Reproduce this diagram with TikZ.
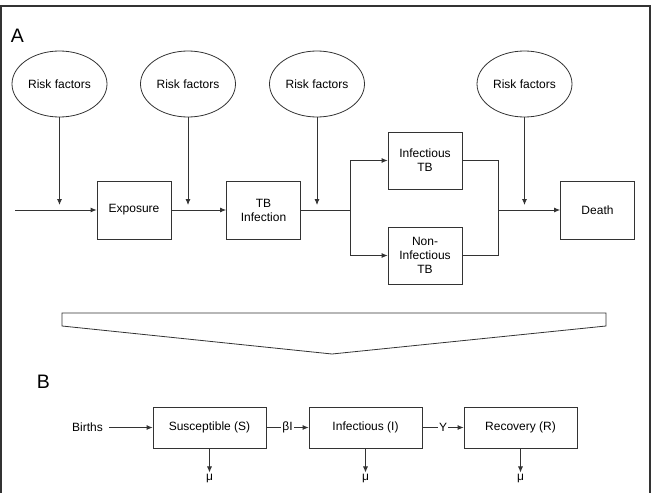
\documentclass[tikz,border=0pt]{standalone}
\usepackage{fontspec}
\setmainfont{Liberation Sans}
\usetikzlibrary{shapes.geometric, arrows.meta, positioning}
\definecolor{linegray}{HTML}{333333}

\begin{document}
\begin{tikzpicture}[x=1pt, y=-1pt,
    risk/.style  = {ellipse, draw=linegray, line width=0.8pt, minimum width=95pt,
                    minimum height=66pt, inner sep=0pt, font=\fontsize{12}{13}\selectfont},
    stage/.style = {rectangle, draw=linegray, line width=0.8pt, minimum width=74pt,
                    minimum height=58pt, align=center, inner sep=1pt,
                    font=\fontsize{12}{14}\selectfont},
    comp/.style  = {rectangle, draw=linegray, line width=0.8pt, minimum width=113pt,
                    minimum height=41pt, align=center, font=\fontsize{12}{13}\selectfont},
    plain/.style = {inner sep=1pt, font=\fontsize{12}{13}\selectfont},
    panel/.style = {font=\fontsize{19.5}{21}\selectfont},
    arr/.style   = {-{Latex[length=6pt, width=5pt]}, draw=linegray, line width=0.8pt},
    lin/.style   = {draw=linegray, line width=0.8pt},
    lbl/.style   = {fill=white, inner sep=1pt, font=\fontsize{12}{13}\selectfont}
  ]
  \useasboundingbox (0,0) rectangle (655,492);

  % Frame
  \draw[line width=1.6pt, draw=linegray] (1,494) -- (1,6) -- (650,6) -- (650,494);

  % Panel labels
  \node[panel] (labA) at (17.5,36)  {A};
  \node[panel] (labB) at (43.5,382) {B};

  % Risk factors
  \node[risk] (rf1) at (59.5,84)  {Risk factors};
  \node[risk] (rf2) at (188,84)   {Risk factors};
  \node[risk] (rf3) at (317,84)   {Risk factors};
  \node[risk] (rf4) at (524.5,84) {Risk factors};

  % Stages of panel A
  \node[stage] (exposure) at (134,210)    {Exposure};
  \node[stage] (tbinf)    at (263.5,210)  {TB\\Infection};
  \node[stage, minimum height=57pt] (inftb)    at (425,160.5) {Infectious\\TB};
  \node[stage, minimum height=57pt] (noninftb) at (425,255.5) {Non-\\Infectious\\TB};
  \node[stage] (death)    at (597.5,210)  {Death};

  \coordinate (start) at (15,210);
  \coordinate (split) at (350,210);
  \coordinate (merge) at (498,210);

  % Main pathway
  \draw[arr] (start) -- (exposure);
  \draw[arr] (exposure) -- (tbinf);
  \draw[lin] (tbinf) -- (split);
  \draw[arr] (split) |- (inftb.west);
  \draw[arr] (split) |- (noninftb.west);
  \draw[lin] (inftb.east) -| (merge);
  \draw[lin] (noninftb.east) -| (merge);
  \draw[arr] (merge) -- (death);

  % Risk factor arrows
  \draw[arr, shorten >=5pt] (rf1.south) -- (rf1.south |- start);
  \draw[arr, shorten >=5pt] (rf2.south) -- (rf2.south |- start);
  \draw[arr, shorten >=5pt] (rf3.south) -- (rf3.south |- start);
  \draw[arr, shorten >=5pt] (rf4.south) -- (rf4.south |- start);

  % Funnel
  \draw[lin] (62,313) -- (62,326) -- (332,354) -- (606,326) -- (606,313) -- cycle;

  % Compartments of panel B
  \node[plain] (births) at (87.5,427.5) {Births};
  \node[comp] (sus) at (209.5,427.5) {Susceptible (S)};
  \node[comp] (inf) at (365.5,427.5) {Infectious (I)};
  \node[comp] (rec) at (520.5,427.5) {Recovery (R)};

  \node[plain] (mu1) at (209.5,478) {μ};
  \node[plain] (mu2) at (365.5,478) {μ};
  \node[plain] (mu3) at (520.5,478) {μ};

  \draw[arr, shorten <=5pt] (births) -- (sus);
  \draw[arr] (sus) -- node[lbl]{βI} (inf);
  \draw[arr] (inf) -- node[lbl]{Y} (rec);
  \draw[arr] (sus) -- (mu1);
  \draw[arr] (inf) -- (mu2);
  \draw[arr] (rec) -- (mu3);
\end{tikzpicture}
\end{document}
